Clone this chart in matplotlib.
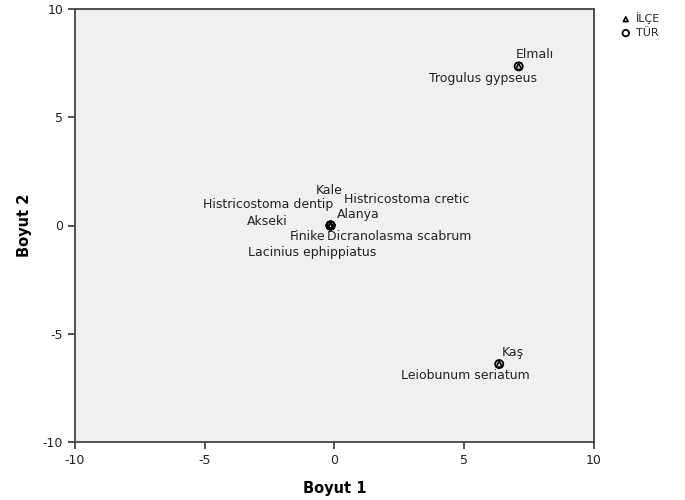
import matplotlib.pyplot as plt

plt.rcParams['font.family'] = ['DejaVu Sans']
plt.rcParams['axes.unicode_minus'] = False

# ilce (district) points and species points, stimulus coordinates
ilce_names = ['Elmalı', 'Kaş', 'Kale', 'Alanya', 'Akseki', 'Finike']
ilce_x = [7.1, 6.35, -0.15, -0.15, -0.15, -0.15]
ilce_y = [7.35, -6.4, 0.0, 0.0, 0.0, 0.0]

tur_names = ['Trogulus gypseus', 'Leiobunum seriatum', 'Histricostoma cretic',
             'Histricostoma dentip', 'Dicranolasma scabrum', 'Lacinius ephippiatus']
tur_x = [7.1, 6.35, -0.15, -0.15, -0.15, -0.15]
tur_y = [7.35, -6.4, 0.0, 0.0, 0.0, 0.0]

# label offsets in pixels (left edge, vertical centre)
ilce_off = [(-3, 12), (3, 12), (-15, 35), (6, 11), (-84, 4), (-41, -11)]
tur_off = [(-90, -12), (-98, -11), (13, 26), (-128, 21), (-4, -11), (-83, -27)]

fig = plt.figure(figsize=(6.85, 5), dpi=100)
ax = fig.add_axes([0.1095, 0.116, 0.7575, 0.866])
ax.set_facecolor('#f0f0f0')

ax.scatter(ilce_x, ilce_y, marker='^', s=18, facecolors='none', edgecolors='black',
           linewidths=1.2, label='İLÇE', zorder=3)
ax.scatter(tur_x, tur_y, marker='o', s=34, facecolors='none', edgecolors='black',
           linewidths=1.3, label='TÜR', zorder=3)

for names, xs, ys, offs in [(ilce_names, ilce_x, ilce_y, ilce_off),
                            (tur_names, tur_x, tur_y, tur_off)]:
    for n, x, y, o in zip(names, xs, ys, offs):
        ax.annotate(n, (x, y), xytext=o, textcoords='offset pixels',
                    ha='left', va='center', fontsize=9, color='#222222')

ax.set_xlim(-10, 10)
ax.set_ylim(-10, 10)
ax.set_xticks([-10, -5, 0, 5, 10])
ax.set_yticks([-10, -5, 0, 5, 10])
ax.tick_params(direction='out', length=5, width=1.3, labelsize=9, color='#444444',
               labelcolor='#222222')
for s in ax.spines.values():
    s.set_color('#444444')
    s.set_linewidth(1.3)

ax.set_xlabel('Boyut 1', fontsize=10.5, fontweight='bold', labelpad=10)
ax.set_ylabel('Boyut 2', fontsize=10.5, fontweight='bold', labelpad=8)

ax.legend(loc='upper left', bbox_to_anchor=(1.04, 1.008), frameon=False,
          fontsize=8, handletextpad=0.5, borderpad=0.1, labelspacing=0.35,
          markerscale=0.8, handlelength=0.8, labelcolor='#222222')

fig.savefig('out.png', dpi=100)
